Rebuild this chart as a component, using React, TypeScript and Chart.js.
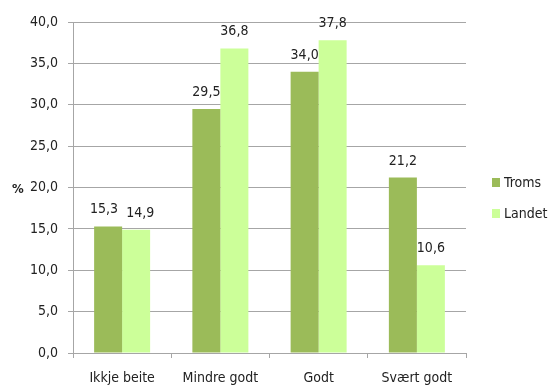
import React, { useEffect, useRef } from "react";
import { Chart, registerables } from "chart.js";

Chart.register(...registerables);

const categories = ["Ikkje beite", "Mindre godt", "Godt", "Svært godt"];
const troms = [15.3, 29.5, 34.0, 21.2];
const landet = [14.9, 36.8, 37.8, 10.6];
const seriesNames = ["Troms", "Landet"];
const seriesColors = ["#9BBB59", "#CCFF99"];

const FONT = "'Liberation Sans Narrow', 'DejaVu Sans Condensed', 'Open Sans', sans-serif";
const fmt = (v: number) => v.toFixed(1).replace(".", ",");

// Value labels above each bar; neighbours that would collide are pushed apart
const valueLabels = {
  id: "valueLabels",
  afterDatasetsDraw(chart: any) {
    const ctx = chart.ctx;
    ctx.save();
    ctx.font = `14px ${FONT}`;
    ctx.fillStyle = "#222";
    ctx.textAlign = "center";
    ctx.textBaseline = "alphabetic";
    const m0 = chart.getDatasetMeta(0);
    const m1 = chart.getDatasetMeta(1);
    const d0 = chart.data.datasets[0].data;
    const d1 = chart.data.datasets[1].data;
    m0.data.forEach((b0: any, j: number) => {
      const b1 = m1.data[j];
      const t0 = fmt(d0[j]);
      const t1 = fmt(d1[j]);
      let x0 = b0.x;
      let x1 = b1.x;
      const y0 = b0.y - 13;
      const y1 = b1.y - 13;
      const need = (ctx.measureText(t0).width + ctx.measureText(t1).width) / 2 + 8;
      if (Math.abs(y0 - y1) < 16 && x1 - x0 < need) {
        const push = (need - (x1 - x0)) / 2;
        x0 -= push;
        x1 += push;
      }
      ctx.fillText(t0, x0, y0);
      ctx.fillText(t1, x1, y1);
    });
    ctx.restore();
  },
};

// Axis unit and legend on the right
const sideTexts = {
  id: "sideTexts",
  afterDraw(chart: any) {
    const ctx = chart.ctx;
    ctx.save();
    ctx.font = `bold 13px ${FONT}`;
    ctx.fillStyle = "#222";
    ctx.textAlign = "left";
    ctx.textBaseline = "middle";
    ctx.fillText("%", 12, 190);

    ctx.font = `14px ${FONT}`;
    seriesNames.forEach((name, i) => {
      const y = 183 + i * 31;
      ctx.fillStyle = seriesColors[i];
      ctx.fillRect(492, y - 5, 8, 9);
      ctx.fillStyle = "#222";
      ctx.fillText(name, 504, y);
    });
    ctx.restore();
  },
};

export default function App() {
  const ref = useRef<HTMLCanvasElement>(null);

  useEffect(() => {
    document.body.style.margin = "0";
    const chart = new Chart(ref.current!, {
      type: "bar",
      data: {
        labels: categories,
        datasets: [
          { label: seriesNames[0], data: troms, backgroundColor: seriesColors[0] },
          { label: seriesNames[1], data: landet, backgroundColor: seriesColors[1] },
        ],
      },
      options: {
        responsive: false,
        animation: false,
        layout: { padding: { top: 22, right: 85, left: 0, bottom: 0 } },
        datasets: { bar: { categoryPercentage: 0.57, barPercentage: 1 } },
        plugins: { legend: { display: false }, tooltip: { enabled: false } },
        scales: {
          x: {
            grid: { display: true, drawOnChartArea: false, tickLength: 5, color: "#a6a6a6" },
            border: { color: "#a6a6a6" },
            ticks: { color: "#222", font: { family: FONT, size: 14 }, padding: 12 },
            afterFit(scale: any) {
              scale.height = 32;
            },
          },
          y: {
            min: 0,
            max: 40,
            ticks: {
              stepSize: 5,
              color: "#222",
              font: { family: FONT, size: 14 },
              padding: 10,
              callback: (v: any) => fmt(Number(v)),
            },
            grid: { color: "#a6a6a6", tickLength: 5 },
            border: { color: "#a6a6a6" },
            afterFit(scale: any) {
              scale.width = 73;
            },
          },
        },
      },
      plugins: [valueLabels, sideTexts],
    });
    return () => chart.destroy();
  }, []);

  return (
    <div style={{ position: "absolute", left: 0, top: 0, width: 551, height: 385, background: "#fff" }}>
      <canvas ref={ref} width={551} height={385} />
    </div>
  );
}
